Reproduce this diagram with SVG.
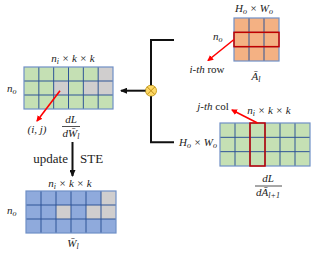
<svg xmlns="http://www.w3.org/2000/svg" width="315" height="255" viewBox="0 0 315 255">
<style>
text{font-family:"Liberation Serif","DejaVu Serif",serif;fill:#222}
.m{font-style:italic;font-size:11px}
.s{font-size:8px;font-style:italic}
.r{font-size:13px}
.grid{fill:none;stroke:#2f5597;stroke-width:1}
.out{fill:none;stroke:#6f8fc6;stroke-width:1.2}
.green{fill:#c5e0b4}
.gray{fill:#d0cece}
.blue{fill:#8faadc}
.orange{fill:#f4b183}
.sel{fill:none;stroke:#c00000;stroke-width:1.5}
.red{stroke:#ff0000;stroke-width:1.6;fill:none}
.blk{stroke:#111;stroke-width:2;fill:none}
.bar{stroke:#222;stroke-width:0.8}
</style>
<defs>
<marker id="ar" markerWidth="6" markerHeight="6" refX="5" refY="3" orient="auto" markerUnits="userSpaceOnUse">
<path d="M0,0 L6,3 L0,6 Z" fill="#ff0000"/>
</marker>
<marker id="ab" markerWidth="7" markerHeight="6" refX="6" refY="3" orient="auto" markerUnits="userSpaceOnUse">
<path d="M0,0 L7,3 L0,6 Z" fill="#111"/>
</marker>
</defs>

<g id="grad-W">
<rect class="green" x="24" y="67" width="89" height="42"/>
<rect class="gray" x="98.17" y="67" width="14.83" height="14"/>
<rect class="gray" x="53.67" y="81" width="14.83" height="14"/>
<rect class="gray" x="83.33" y="81" width="14.83" height="14"/>
<rect class="gray" x="98.17" y="81" width="14.83" height="14"/>
<path class="grid" d="M38.83,67V109M53.67,67V109M68.5,67V109M83.33,67V109M98.17,67V109M24,81H113M24,95H113"/>
<rect class="out" x="24" y="67" width="89" height="42"/>
<text class="m" x="73" y="62" text-anchor="middle">n<tspan class="s" dy="2">i</tspan><tspan dy="-2"> × k × k</tspan></text>
<text class="m" x="7" y="92">n<tspan class="s" dy="2">o</tspan></text>
<text class="m" x="37" y="133" text-anchor="middle">(i, j)</text>
<text class="m" x="71" y="123" text-anchor="middle">dL</text>
<line class="bar" x1="62" y1="126.5" x2="80" y2="126.5"/>
<text class="m" x="71" y="137" text-anchor="middle">dW̄<tspan class="s" dy="2">l</tspan></text>
</g>

<g id="A-bar">
<rect class="orange" x="234" y="18" width="45" height="43"/>
<path class="grid" d="M249,18V61M264,18V61M234,32.33H279M234,46.67H279"/>
<rect class="out" x="234" y="18" width="45" height="43"/>
<rect class="sel" x="234" y="32.33" width="45" height="14.33"/>
<text class="m" x="254" y="12" text-anchor="middle">H<tspan class="s" dy="2">o</tspan><tspan dy="-2"> × W</tspan><tspan class="s" dy="2">o</tspan></text>
<text class="m" x="213" y="40">n<tspan class="s" dy="2">o</tspan></text>
<text x="207" y="73" text-anchor="middle" font-size="11"><tspan font-style="italic">i-th</tspan> row</text>
<text class="m" x="256" y="80" text-anchor="middle" font-size="13">Ā<tspan class="s" dy="2">l</tspan></text>
</g>

<g id="grad-A">
<rect class="green" x="220" y="123" width="90" height="43"/>
<path class="grid" d="M235,123V166M250,123V166M265,123V166M280,123V166M295,123V166M220,137.33H310M220,151.67H310"/>
<rect class="out" x="220" y="123" width="90" height="43"/>
<rect class="sel" x="250" y="123" width="15" height="43"/>
<text class="m" x="269" y="114" text-anchor="middle">n<tspan class="s" dy="2">i</tspan><tspan dy="-2"> × k × k</tspan></text>
<text class="m" x="217" y="146" text-anchor="end">H<tspan class="s" dy="2">o</tspan><tspan dy="-2"> × W</tspan><tspan class="s" dy="2">o</tspan></text>
<text x="213" y="110" text-anchor="middle" font-size="11"><tspan font-style="italic">j-th</tspan> col</text>
<text class="m" x="268" y="182" text-anchor="middle">dL</text>
<line class="bar" x1="255" y1="186" x2="282" y2="186"/>
<text class="m" x="268" y="196" text-anchor="middle">dĀ<tspan class="s" dy="2">l+1</tspan></text>
</g>

<g id="W-bar">
<rect class="blue" x="26" y="191" width="90" height="42"/>
<rect class="gray" x="101" y="191" width="15" height="14"/>
<rect class="gray" x="56" y="205" width="15" height="14"/>
<rect class="gray" x="86" y="205" width="15" height="14"/>
<rect class="gray" x="101" y="205" width="15" height="14"/>
<path class="grid" d="M41,191V233M56,191V233M71,191V233M86,191V233M101,191V233M26,205H116M26,219H116"/>
<rect class="out" x="26" y="191" width="90" height="42"/>
<text class="m" x="70" y="187" text-anchor="middle">n<tspan class="s" dy="2">i</tspan><tspan dy="-2"> × k × k</tspan></text>
<text class="m" x="7" y="214">n<tspan class="s" dy="2">o</tspan></text>
<text class="m" x="73" y="247" text-anchor="middle" font-size="13">W̄<tspan class="s" dy="2">l</tspan></text>
</g>

<g id="mult">
<circle cx="151" cy="90.7" r="5.5" fill="#ffd966" stroke="#c9a227" stroke-width="1"/>
<path d="M147.1,86.8L154.9,94.6M154.9,86.8L147.1,94.6" stroke="#b8860b" stroke-width="0.9"/>
</g>

<g id="connectors">
<path class="blk" d="M174,40H151V85.2M151,96.2V142.3H174"/>
<line class="blk" x1="145.5" y1="90.7" x2="121" y2="90.7" stroke-width="1.8" marker-end="url(#ab)"/>
<line class="blk" x1="72.5" y1="142" x2="72.5" y2="176" stroke-width="1.8" marker-end="url(#ab)"/>
<text class="r" x="68" y="163" text-anchor="end">update</text>
<text class="r" x="80" y="163">STE</text>
<line class="red" x1="60" y1="90.7" x2="37" y2="121" marker-end="url(#ar)"/>
<line class="red" x1="234" y1="39.5" x2="208" y2="60.5" marker-end="url(#ar)"/>
<line class="red" x1="257.5" y1="123" x2="232" y2="110" marker-end="url(#ar)"/>
</g>
</svg>
